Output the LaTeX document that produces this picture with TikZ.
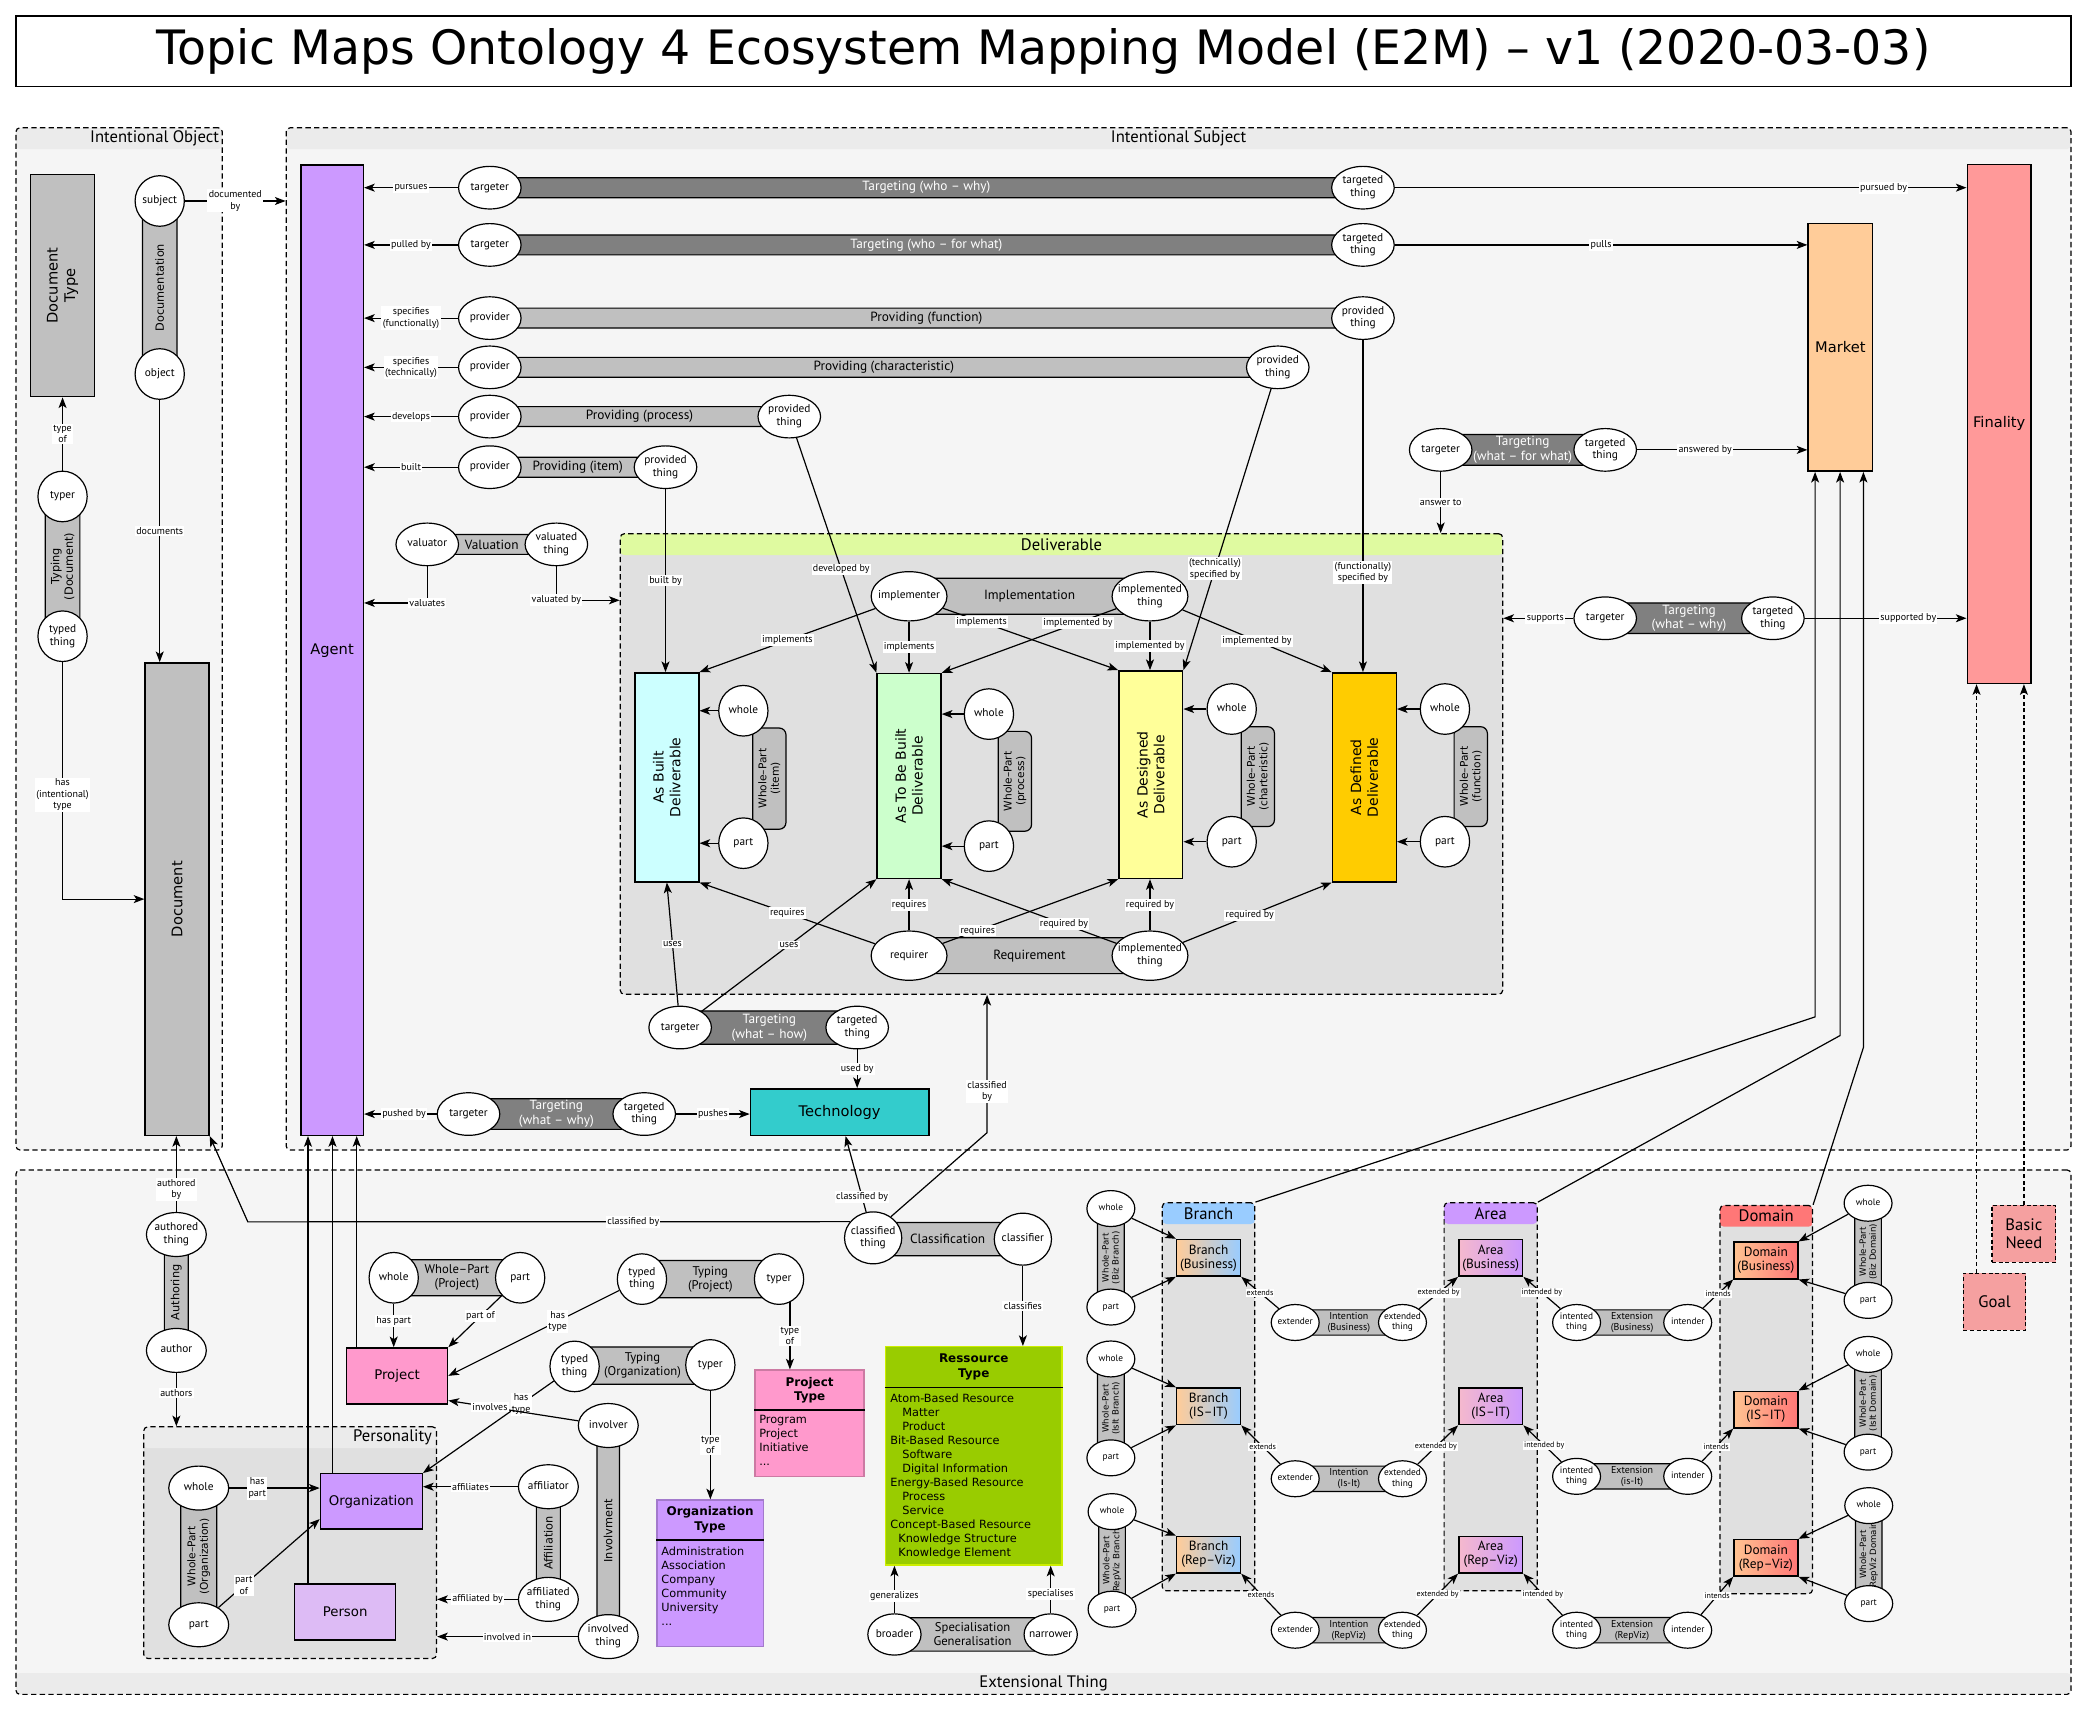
\documentclass[tikz,border=0pt]{standalone}
\usepackage{fontspec}
\setmainfont{PT Sans}
\newfontfamily\boxfont{DejaVu Sans}
\usetikzlibrary{shapes.geometric,arrows.meta,positioning}

\definecolor{bodygray}{RGB}{245,245,245}
\definecolor{hdrgray}{RGB}{235,235,235}
\definecolor{innergray}{RGB}{224,224,224}
\definecolor{bargray}{RGB}{192,192,192}
\definecolor{bardark}{RGB}{128,128,128}
\definecolor{agentc}{RGB}{204,153,255}
\definecolor{marketc}{RGB}{255,204,153}
\definecolor{finalc}{RGB}{255,153,153}
\definecolor{techc}{RGB}{51,204,204}
\definecolor{delivg}{RGB}{223,250,160}
\definecolor{builtc}{RGB}{204,255,255}
\definecolor{tbbc}{RGB}{204,255,204}
\definecolor{desc}{RGB}{255,255,153}
\definecolor{defc}{RGB}{255,204,0}
\definecolor{projc}{RGB}{255,153,204}
\definecolor{personc}{RGB}{221,187,245}
\definecolor{restc}{RGB}{153,204,0}
\definecolor{branchc}{RGB}{153,204,255}
\definecolor{domainc}{RGB}{255,119,119}
\definecolor{goalc}{RGB}{245,160,160}
\definecolor{areal}{RGB}{245,185,205}
\definecolor{domainl}{RGB}{255,195,145}

\newcommand{\rtxt}[1]{\makebox[0pt]{\begin{tabular}{@{}c@{}}#1\end{tabular}}}

\begin{document}
\begin{tikzpicture}[x=1pt, y=-1pt, line width=0.9pt, >={Stealth[length=8pt,width=6pt,inset=2pt]}]
    \tikzstyle{cont} = [rectangle, draw, dash pattern=on 4pt off 2.5pt, rounded corners=3pt, fill=bodygray, inner sep=0pt]
    \tikzset{hdr/.style 2 args={path picture={\fill[#1] (path picture bounding box.north west) rectangle ([yshift=-#2]path picture bounding box.north east);}},
             ftr/.style 2 args={path picture={\fill[#1] (path picture bounding box.south west) rectangle ([yshift=#2]path picture bounding box.south east);}}}
    \tikzstyle{titlebox} = [rectangle, draw, line width=1.2pt, fill=white, font={\boxfont\fontsize{35.6}{40}\selectfont}]
    \tikzstyle{ctitle} = [inner sep=1pt, font=\fontsize{12.5}{14}\selectfont]
    \tikzstyle{ebox} = [rectangle, draw, line width=1.1pt, inner sep=0pt, align=center, font={\boxfont\fontsize{11}{13}\selectfont}]
    \tikzstyle{vtext} = [rotate=90, align=center, font={\boxfont\fontsize{10.5}{12.5}\selectfont}]
    \tikzstyle{bigvtext} = [rotate=90, align=center, font={\boxfont\fontsize{11}{13}\selectfont}]
    \tikzstyle{role} = [ellipse, draw, fill=white, inner sep=0pt, minimum width=47pt, minimum height=32pt, font=\fontsize{8.5}{9.5}\selectfont]
    \tikzstyle{brole} = [role, minimum width=57pt, minimum height=37pt]
    \tikzstyle{srole} = [role, minimum width=37pt, minimum height=38pt]
    \tikzstyle{mrole} = [role, minimum width=45pt, minimum height=33pt]
    \tikzstyle{crole} = [role, minimum width=43pt, minimum height=39pt]
    \tikzstyle{grole} = [role, minimum width=40pt, minimum height=31pt]
    \tikzstyle{xrole} = [role, minimum width=36pt, minimum height=27pt, font=\fontsize{7}{8}\selectfont]
    \tikzstyle{dbar} = [rectangle, draw, fill=bardark, rounded corners=5pt, inner sep=0pt, text=white, align=center, font=\fontsize{10}{11}\selectfont]
    \tikzstyle{lbar} = [rectangle, draw, fill=bargray, rounded corners=5pt, inner sep=0pt, align=center, font=\fontsize{10}{11}\selectfont]
    \tikzstyle{sbar} = [lbar, font=\fontsize{7.5}{8.5}\selectfont]
    \tikzstyle{vbar} = [lbar, rotate=90, font={\boxfont\fontsize{8.5}{10}\selectfont}]
    \tikzstyle{wpbar} = [vbar, font={\boxfont\fontsize{8}{9.5}\selectfont}]
    \tikzstyle{swpbar} = [vbar, font={\boxfont\fontsize{6.5}{7.5}\selectfont}]
    \tikzstyle{bbox} = [rectangle, draw, line width=1.1pt, inner sep=0pt, minimum width=48pt, minimum height=27.5pt, align=center, font=\fontsize{10}{10.5}\selectfont]
    \tikzstyle{gbox} = [rectangle, draw, dash pattern=on 3pt off 2pt, fill=goalc, inner sep=0pt, align=center, font=\fontsize{12.5}{14}\selectfont]
    \tikzstyle{thdr} = [inner sep=0pt, align=center, font={\boxfont\bfseries\fontsize{9}{11}\selectfont}]
    \tikzstyle{tlist} = [inner sep=0pt, anchor=north west, align=left, font={\boxfont\fontsize{8.5}{10.5}\selectfont}]
    \tikzstyle{elabel} = [fill=white, inner sep=1pt, align=center, font=\fontsize{7.5}{8.5}\selectfont]
    \tikzstyle{slabel} = [fill=white, inner sep=0.8pt, align=center, font=\fontsize{6}{7}\selectfont]

    \useasboundingbox (0,0) rectangle (1568,1285);

    % title
    \node[titlebox, minimum width=1544pt, minimum height=53pt] (title) at (784,38.5) {Topic Maps Ontology 4 Ecosystem Mapping Model (E2M) – v1 (2020-03-03)};

    % containers
    \node[cont, hdr={hdrgray}{16pt}, minimum width=155pt, minimum height=768pt] (iobj) at (89.5,480) {};
    \node[cont, hdr={hdrgray}{16pt}, minimum width=1341pt, minimum height=768pt] (isubj) at (885.5,480) {};
    \node[cont, ftr={hdrgray}{16pt}, minimum width=1544pt, minimum height=394pt] (ext) at (784,1076) {};
    \node[ctitle, anchor=east] (iobj-t) at (166,104) {Intentional Object};
    \node[ctitle] (isubj-t) at (885.5,104) {Intentional Subject};
    \node[ctitle] (ext-t) at (784,1265) {Extensional Thing};
    \node[cont, fill=innergray, hdr={delivg}{16pt}, minimum width=663pt, minimum height=346pt] (deliv) at (797.5,574) {};
    \node[ctitle] (deliv-t) at (797.5,409) {Deliverable};
    \node[cont, fill=innergray, hdr={hdrgray}{16pt}, minimum width=220pt, minimum height=174pt] (pers) at (218,1159) {};
    \node[ctitle, anchor=east] (pers-t) at (326,1079.5) {Personality};
    \node[cont, fill=innergray, hdr={branchc}{16pt}, minimum width=69.5pt, minimum height=291.6pt] (branch) at (908,1049.4) {};
    \node[cont, fill=innergray, hdr={agentc}{16pt}, minimum width=70pt, minimum height=291.6pt] (area) at (1120,1049.4) {};
    \node[cont, fill=innergray, hdr={domainc}{16pt}, minimum width=69.5pt, minimum height=291.7pt] (domain) at (1327,1051.5) {};
    \node[ctitle, font=\fontsize{12.5}{14}\selectfont] (branch-t) at (908,911.7) {Branch};
    \node[ctitle, font=\fontsize{12.5}{14}\selectfont] (area-t) at (1120,911.7) {Area};
    \node[ctitle, font=\fontsize{12.5}{14}\selectfont] (domain-t) at (1327,913.7) {Domain};

    % intentional object
    \node[ebox, fill=bargray, minimum width=48pt, minimum height=167pt, label={[bigvtext]center:{Document\\Type}}] (doctype) at (47,214.5) {};
    \node[ebox, fill=bargray, minimum width=48pt, minimum height=355pt, label={[bigvtext]center:Document}] (document) at (133,675.5) {};
    \node[vbar, minimum width=105pt, minimum height=26pt] (typingdoc) at (47,425.5) {Typing\\(Document)};
    \node[vbar, minimum width=130pt, minimum height=26pt] (documentation) at (120,216) {Documentation};
    \node[srole] (dtyper) at (47,373) {\rtxt{typer}};
    \node[srole] (dtyped) at (47,478) {\rtxt{typed\\thing}};
    \node[srole] (subject) at (120,151) {\rtxt{subject}};
    \node[srole] (object) at (120,281) {\rtxt{object}};

    % intentional subject
    \node[ebox, fill=agentc, minimum width=47pt, minimum height=729pt] (agent) at (249.5,488.5) {Agent};
    \node[ebox, fill=marketc, minimum width=48.5pt, minimum height=186pt] (market) at (1382.7,261) {Market};
    \node[ebox, fill=finalc, minimum width=48pt, minimum height=390pt] (finality) at (1502,318.5) {Finality};
    \node[ebox, fill=techc, minimum width=134pt, minimum height=35pt] (tech) at (630.8,835.5) {Technology};

    \node[dbar, minimum width=656pt, minimum height=15pt] (twhowhy) at (696,141) {Targeting (who – why)};
    \node[dbar, minimum width=656pt, minimum height=15pt] (twhofor) at (696,184) {Targeting (who – for what)};
    \node[lbar, minimum width=656pt, minimum height=15pt] (pfunc) at (696,239) {Providing (function)};
    \node[lbar, minimum width=592pt, minimum height=15pt] (pchar) at (664,276) {Providing (characteristic)};
    \node[lbar, minimum width=225pt, minimum height=15pt] (pproc) at (480.5,313) {Providing (process)};
    \node[lbar, minimum width=132pt, minimum height=15pt] (pitem) at (434,351) {Providing (item)};
    \node[lbar, minimum width=97pt, minimum height=15pt] (valuation) at (369.5,409) {Valuation};
    \node[dbar, minimum width=124pt, minimum height=23pt] (twhatfor) at (1144,338) {Targeting\\(what – for what)};
    \node[dbar, minimum width=126pt, minimum height=23pt] (twhatwhy) at (1269,464.5) {Targeting\\(what – why)};
    \node[dbar, minimum width=133pt, minimum height=25pt] (twhathow) at (578,772) {Targeting\\(what – how)};
    \node[dbar, minimum width=132pt, minimum height=23pt] (tpush) at (418,837) {Targeting\\(what – why)};

    \node[role] (tgt1) at (368,141) {\rtxt{targeter}};
    \node[role] (tgtd1) at (1024,141) {\rtxt{targeted\\thing}};
    \node[role] (tgt2) at (368,184) {\rtxt{targeter}};
    \node[role] (tgtd2) at (1024,184) {\rtxt{targeted\\thing}};
    \node[role] (prov3) at (368,239) {\rtxt{provider}};
    \node[role] (prvd3) at (1024,239) {\rtxt{provided\\thing}};
    \node[role] (prov4) at (368,276) {\rtxt{provider}};
    \node[role] (prvd4) at (960,276) {\rtxt{provided\\thing}};
    \node[role] (prov5) at (368,313) {\rtxt{provider}};
    \node[role] (prvd5) at (593,313) {\rtxt{provided\\thing}};
    \node[role] (prov6) at (368,351) {\rtxt{provider}};
    \node[role] (prvd6) at (500,351) {\rtxt{provided\\thing}};
    \node[role] (valuator) at (321,409) {\rtxt{valuator}};
    \node[role] (valuated) at (418,409) {\rtxt{valuated\\thing}};
    \node[role] (tgt9) at (1082.4,338) {\rtxt{targeter}};
    \node[role] (tgtd9) at (1206,338) {\rtxt{targeted\\thing}};
    \node[role] (tgt10) at (1206,464.5) {\rtxt{targeter}};
    \node[role] (tgtd10) at (1332,464.5) {\rtxt{targeted\\thing}};
    \node[role] (tgt7) at (511,772) {\rtxt{targeter}};
    \node[role] (tgtd7) at (644,772) {\rtxt{targeted\\thing}};
    \node[role] (tgt8) at (352,837) {\rtxt{targeter}};
    \node[role] (tgtd8) at (484,837) {\rtxt{targeted\\thing}};

    % deliverable
    \node[lbar, minimum width=181pt, minimum height=27pt] (implementation) at (773.5,448) {Implementation};
    \node[lbar, minimum width=181pt, minimum height=27pt] (requirement) at (773.5,718) {Requirement};
    \node[ebox, fill=builtc, minimum width=48pt, minimum height=157pt, label={[vtext]center:{As Built\\Deliverable}}] (asbuilt) at (501,584) {};
    \node[ebox, fill=tbbc, minimum width=48pt, minimum height=154pt, label={[vtext]center:{As To Be Built\\Deliverable}}] (astbb) at (683,583) {};
    \node[ebox, fill=desc, minimum width=48pt, minimum height=156pt, label={[vtext]center:{As Designed\\Deliverable}}] (asdes) at (864.6,582) {};
    \node[ebox, fill=defc, minimum width=48pt, minimum height=157pt, label={[vtext]center:{As Defined\\Deliverable}}] (asdef) at (1025,584) {};
    \node[wpbar, minimum width=76pt, minimum height=25pt] (wpitem) at (578,585) {Whole–Part\\(item)};
    \node[wpbar, minimum width=75pt, minimum height=25pt] (wpproc) at (762.5,587) {Whole–Part\\(process)};
    \node[wpbar, minimum width=75pt, minimum height=25pt] (wpchar) at (945,583.5) {Whole–Part\\(charteristic)};
    \node[wpbar, minimum width=75pt, minimum height=25pt] (wpfunc) at (1105,583.5) {Whole–Part\\(function)};
    \node[brole] (impl) at (683,448) {\rtxt{implementer}};
    \node[brole] (impld) at (864,448) {\rtxt{implemented\\thing}};
    \node[brole] (req) at (683,718) {\rtxt{requirer}};
    \node[brole] (reqd) at (864,718) {\rtxt{implemented\\thing}};
    \node[srole] (whole1) at (558.5,534) {\rtxt{whole}};
    \node[srole] (part1) at (558.5,633.5) {\rtxt{part}};
    \node[srole] (whole2) at (743,536.5) {\rtxt{whole}};
    \node[srole] (part2) at (743,635.7) {\rtxt{part}};
    \node[srole] (whole3) at (925.4,532.7) {\rtxt{whole}};
    \node[srole] (part3) at (925.4,632.4) {\rtxt{part}};
    \node[srole] (whole4) at (1085.6,532.7) {\rtxt{whole}};
    \node[srole] (part4) at (1085.6,632.4) {\rtxt{part}};

    % extensional thing
    \node[ebox, fill=projc, minimum width=76pt, minimum height=42pt, font={\boxfont\fontsize{10}{12}\selectfont}] (project) at (298.3,1033.7) {Project};
    \node[ebox, fill=agentc, minimum width=76.5pt, minimum height=41.5pt, font={\boxfont\fontsize{10}{12}\selectfont}] (org) at (279,1128) {Organization};
    \node[ebox, fill=personc, minimum width=76pt, minimum height=42pt, font={\boxfont\fontsize{10}{12}\selectfont}] (person) at (259.3,1211) {Person};

    \node[vbar, minimum width=87pt, minimum height=18pt] (authoring) at (132.5,971) {Authoring};
    \node[vbar, minimum width=103pt, minimum height=27pt, font={\boxfont\fontsize{8}{9.5}\selectfont}] (owp) at (149.3,1169.3) {Whole–Part\\(Organization)};
    \node[vbar, minimum width=85pt, minimum height=18pt] (affiliation) at (412,1159.3) {Affiliation};
    \node[vbar, minimum width=158pt, minimum height=17pt] (involvment) at (457,1150) {Involvment};
    \node[lbar, minimum width=95pt, minimum height=27pt, font=\fontsize{9.5}{10.5}\selectfont] (pwp) at (343.3,960) {Whole–Part\\(Project)};
    \node[lbar, minimum width=103pt, minimum height=28pt, font=\fontsize{9.5}{10.5}\selectfont] (ptyping) at (533.7,961) {Typing\\(Project)};
    \node[lbar, minimum width=102pt, minimum height=28pt, font=\fontsize{9.5}{10.5}\selectfont] (otyping) at (482.7,1026) {Typing\\(Organization)};
    \node[lbar, minimum width=112pt, minimum height=25pt] (classification) at (712,931) {Classification};
    \node[lbar, minimum width=117pt, minimum height=25pt, font=\fontsize{9.5}{10.5}\selectfont] (specialisation) at (730.7,1228) {Specialisation\\Generalisation};

    \node[mrole] (authored) at (132.5,927.5) {\rtxt{authored\\thing}};
    \node[mrole] (author) at (132.5,1014.6) {\rtxt{author}};
    \node[mrole] (owhole) at (149.3,1118) {\rtxt{whole}};
    \node[mrole] (opart) at (149.3,1220.7) {\rtxt{part}};
    \node[mrole] (affiliator) at (412,1117) {\rtxt{affiliator}};
    \node[mrole] (affiliated) at (412,1201.6) {\rtxt{affiliated\\thing}};
    \node[mrole] (involver) at (457,1071) {\rtxt{involver}};
    \node[mrole] (involved) at (457,1229.6) {\rtxt{involved\\thing}};
    \node[srole] (pwhole) at (295.8,960) {\rtxt{whole}};
    \node[srole] (ppart) at (390.8,960) {\rtxt{part}};
    \node[srole] (ptyped) at (482.3,961) {\rtxt{typed\\thing}};
    \node[srole] (ptyper) at (585.3,961) {\rtxt{typer}};
    \node[srole] (otyped) at (431.7,1026.6) {\rtxt{typed\\thing}};
    \node[srole] (otyper) at (533.7,1025.5) {\rtxt{typer}};
    \node[crole] (cthing) at (656,930) {\rtxt{classified\\thing}};
    \node[crole] (classifier) at (768.5,931) {\rtxt{classifier}};
    \node[grole] (broader) at (672,1228) {\rtxt{broader}};
    \node[grole] (narrower) at (789.4,1228) {\rtxt{narrower}};

    % type boxes
    \node[rectangle, draw=projc!80!black, line width=1.1pt, fill=projc, minimum width=82pt, minimum height=80pt] (ptype) at (608.3,1069.4) {};
    \node[thdr] (ptype-h) at (608.3,1044.4) {Project\\Type};
    \draw (ptype.west |- 0,1059.4) -- (ptype.east |- 0,1059.4);
    \node[tlist] (ptype-l) at (570,1063) {Program\\Project\\Initiative\\...};
    \node[rectangle, draw=agentc!80!black, line width=1.1pt, fill=agentc, minimum width=80pt, minimum height=110pt] (otype) at (533.5,1182) {};
    \node[thdr] (otype-h) at (533.5,1142) {Organization\\Type};
    \draw (otype.west |- 0,1157) -- (otype.east |- 0,1157);
    \node[tlist] (otype-l) at (496.5,1162) {Administration\\Association\\Company\\Community\\University\\...};
    \node[rectangle, draw={rgb,255:red,204;green,238;blue,0}, line width=1.1pt, fill=restc, minimum width=132.3pt, minimum height=164pt] (rtype) at (731.6,1093.8) {};
    \node[thdr] (rtype-h) at (731.6,1027) {Ressource\\Type};
    \draw (rtype.west |- 0,1042.3) -- (rtype.east |- 0,1042.3);
    \node[tlist] (rtype-l) at (668.5,1047) {Atom-Based Resource\\\hspace*{9pt}Matter\\\hspace*{9pt}Product\\Bit-Based Resource\\\hspace*{9pt}Software\\\hspace*{9pt}Digital Information\\Energy-Based Resource\\\hspace*{9pt}Process\\\hspace*{9pt}Service\\Concept-Based Resource\\\hspace*{6pt}Knowledge Structure\\\hspace*{6pt}Knowledge Element};

    % branch, area, domain
    \node[bbox, left color=marketc, right color=branchc] (bbiz) at (908,945) {Branch\\(Business)};
    \node[bbox, left color=marketc, right color=branchc] (bisit) at (908,1056.6) {Branch\\(IS–IT)};
    \node[bbox, left color=marketc, right color=branchc] (brv) at (908,1168) {Branch\\(Rep–Viz)};
    \node[bbox, left color=areal, right color=agentc] (abiz) at (1120,945) {Area\\(Business)};
    \node[bbox, left color=areal, right color=agentc] (aisit) at (1120,1056.6) {Area\\(IS–IT)};
    \node[bbox, left color=areal, right color=agentc] (arv) at (1120,1168) {Area\\(Rep–Viz)};
    \node[bbox, left color=domainl, right color=domainc] (dbiz) at (1326.7,947) {Domain\\(Business)};
    \node[bbox, left color=domainl, right color=domainc] (disit) at (1326.7,1059) {Domain\\(IS–IT)};
    \node[bbox, left color=domainl, right color=domainc] (drv) at (1326.7,1170.4) {Domain\\(Rep–Viz)};

    \node[swpbar, minimum width=74pt, minimum height=20pt] (bwp1) at (834.6,945) {Whole–Part\\(Biz Branch)};
    \node[swpbar, minimum width=74pt, minimum height=20pt] (bwp2) at (834.6,1058.2) {Whole–Part\\(IsIt Branch)};
    \node[swpbar, minimum width=73pt, minimum height=20pt] (bwp3) at (835.5,1172.4) {Whole–Part\\(RepViz Branch)};
    \node[swpbar, minimum width=73pt, minimum height=20pt] (dwp1) at (1403.5,940.5) {Whole–Part\\(Biz Domain)};
    \node[swpbar, minimum width=73pt, minimum height=20pt] (dwp2) at (1403.5,1054.3) {Whole–Part\\(IsIt Domain)};
    \node[swpbar, minimum width=73pt, minimum height=20pt] (dwp3) at (1404,1168) {Whole–Part\\(RepViz Domain)};
    \node[sbar, minimum width=80pt, minimum height=19pt] (ibar1) at (1013.4,993.6) {Intention\\(Business)};
    \node[sbar, minimum width=80pt, minimum height=19pt] (ibar2) at (1013.4,1111) {Intention\\(Is-It)};
    \node[sbar, minimum width=80pt, minimum height=19pt] (ibar3) at (1013.4,1224.8) {Intention\\(RepViz)};
    \node[sbar, minimum width=83.5pt, minimum height=19pt] (xbar1) at (1226.2,993.6) {Extension\\(Business)};
    \node[sbar, minimum width=83.5pt, minimum height=19pt] (xbar2) at (1226.2,1109.2) {Extension\\(is-It)};
    \node[sbar, minimum width=83.5pt, minimum height=19pt] (xbar3) at (1226.2,1224.8) {Extension\\(RepViz)};

    \node[xrole] (bwhole1) at (834.6,908) {\rtxt{whole}};
    \node[xrole] (bpart1) at (834.6,982) {\rtxt{part}};
    \node[xrole] (bwhole2) at (834.6,1021) {\rtxt{whole}};
    \node[xrole] (bpart2) at (834.6,1095.3) {\rtxt{part}};
    \node[xrole] (bwhole3) at (835.5,1135.7) {\rtxt{whole}};
    \node[xrole] (bpart3) at (835.5,1209) {\rtxt{part}};
    \node[xrole] (dwhole1) at (1403.5,904) {\rtxt{whole}};
    \node[xrole] (dpart1) at (1403.5,977) {\rtxt{part}};
    \node[xrole] (dwhole2) at (1403.5,1017.6) {\rtxt{whole}};
    \node[xrole] (dpart2) at (1403.5,1091) {\rtxt{part}};
    \node[xrole] (dwhole3) at (1404,1131.2) {\rtxt{whole}};
    \node[xrole] (dpart3) at (1404,1204.8) {\rtxt{part}};
    \node[xrole] (ext1) at (973.1,993.6) {\rtxt{extender}};
    \node[xrole] (extd1) at (1053.7,993.6) {\rtxt{extended\\thing}};
    \node[xrole] (ext2) at (973.1,1111) {\rtxt{extender}};
    \node[xrole] (extd2) at (1053.7,1111) {\rtxt{extended\\thing}};
    \node[xrole] (ext3) at (973.1,1224.8) {\rtxt{extender}};
    \node[xrole] (extd3) at (1053.7,1224.8) {\rtxt{extended\\thing}};
    \node[xrole] (intd1) at (1184.5,993.6) {\rtxt{intented\\thing}};
    \node[xrole] (intr1) at (1268,993.6) {\rtxt{intender}};
    \node[xrole] (intd2) at (1184.5,1109.2) {\rtxt{intented\\thing}};
    \node[xrole] (intr2) at (1268,1109.2) {\rtxt{intender}};
    \node[xrole] (intd3) at (1184.5,1224.8) {\rtxt{intented\\thing}};
    \node[xrole] (intr3) at (1268,1224.8) {\rtxt{intender}};

    \node[gbox, minimum width=47pt, minimum height=43pt] (goal) at (1498.5,978) {Goal};
    \node[gbox, minimum width=48pt, minimum height=43pt] (basic) at (1520.6,927) {Basic\\Need};

    % connectors: intentional object
    \draw[->] (dtyper) -- node[elabel]{type\\of} (doctype);
    \draw[->] (dtyped) |- node[elabel, pos=0.28]{has\\(intentional)\\type} (document);
    \draw[->] (subject) -- node[elabel]{documented\\by} (subject -| isubj.west);
    \draw[->] (object) -- node[elabel]{documents} (object |- document.north);

    % connectors: agent rows
    \draw[->] (tgt1) -- node[elabel]{pursues} (tgt1 -| agent.east);
    \draw[->] (tgtd1) -- node[elabel, pos=0.855]{pursued by} (tgtd1 -| finality.west);
    \draw[->] (tgt2) -- node[elabel]{pulled by} (tgt2 -| agent.east);
    \draw[->] (tgtd2) -- node[elabel]{pulls} (tgtd2 -| market.west);
    \draw[->] (prov3) -- node[elabel]{specifies\\(functionally)} (prov3 -| agent.east);
    \draw[->] (prvd3) -- node[elabel, pos=0.7]{(functionally)\\specified by} (prvd3 |- asdef.north);
    \draw[->] (prov4) -- node[elabel]{specifies\\(technically)} (prov4 -| agent.east);
    \draw[->] (prvd4) -- node[elabel, pos=0.64]{(technically)\\specified by} (asdes.north east);
    \draw[->] (prov5) -- node[elabel]{develops} (prov5 -| agent.east);
    \draw[->] (prvd5) -- node[elabel, pos=0.56]{developed by} (astbb.north west);
    \draw[->] (prov6) -- node[elabel]{built} (prov6 -| agent.east);
    \draw[->] (prvd6) -- node[elabel]{built by} (prvd6 |- asbuilt.north);
    \draw[->] (valuator) |- node[elabel]{valuates} (agent.east |- 0,453);
    \draw[->] (valuated) |- node[elabel]{valuated by} (deliv.west |- 0,451);

    % connectors: deliverable
    \draw[->] (impl) -- node[elabel]{implements} (asbuilt.north east);
    \draw[->] (impl) -- node[elabel]{implements} (impl |- astbb.north);
    \draw[->] (impl) -- node[elabel, pos=0.22]{implements} (asdes.north west);
    \draw[->] (impld) -- node[elabel, pos=0.22]{implemented by} (astbb.north east);
    \draw[->] (impld) -- node[elabel]{implemented by} (impld |- asdes.north);
    \draw[->] (impld) -- node[elabel]{implemented by} (asdef.north west);
    \draw[->] (req) -- node[elabel]{requires} (asbuilt.south east);
    \draw[->] (req) -- node[elabel]{requires} (req |- astbb.south);
    \draw[->] (req) -- node[elabel, pos=0.2]{requires} (asdes.south west);
    \draw[->] (reqd) -- node[elabel, pos=0.3]{required by} (astbb.south east);
    \draw[->] (reqd) -- node[elabel]{required by} (reqd |- asdes.south);
    \draw[->] (reqd) -- node[elabel, pos=0.45]{required by} (asdef.south west);
    \draw[->] (whole1) -- (whole1 -| asbuilt.east);
    \draw[->] (part1) -- (part1 -| asbuilt.east);
    \draw[->] (whole2) -- (whole2 -| astbb.east);
    \draw[->] (part2) -- (part2 -| astbb.east);
    \draw[->] (whole3) -- (whole3 -| asdes.east);
    \draw[->] (part3) -- (part3 -| asdes.east);
    \draw[->] (whole4) -- (whole4 -| asdef.east);
    \draw[->] (part4) -- (part4 -| asdef.east);

    % connectors: technology, market, finality
    \draw[->] (tgt7) -- node[elabel]{uses} (asbuilt.south);
    \draw[->] (tgt7) -- node[elabel]{uses} (astbb.south west);
    \draw[->] (tgtd7) -- node[elabel]{used by} (tgtd7 |- tech.north);
    \draw[->] (tgt8) -- node[elabel, pos=0.45]{pushed by} (tgt8 -| agent.east);
    \draw[->] (tgtd8) -- node[elabel]{pushes} (tgtd8 -| tech.west);
    \draw[->] (tgtd9) -- node[elabel, pos=0.4]{answered by} (tgtd9 -| market.west);
    \draw[->] (tgt9) -- node[elabel]{answer to} (tgt9 |- deliv.north);
    \draw[->] (tgt10) -- node[elabel, pos=0.4]{supports} (tgt10 -| deliv.east);
    \draw[->] (tgtd10) -- node[elabel, pos=0.64]{supported by} (tgtd10 -| finality.west);
    \draw[->] (branch.north east) -- (1363.7,764) -- (1363.7,0 |- market.south);
    \draw[->] (area.north east) -- (1382.5,778) -- (1382.5,0 |- market.south);
    \draw[->] (domain.north east) -- (1400,787) -- (1400,0 |- market.south);
    \draw[->, dash pattern=on 3pt off 2pt] (1485,0 |- goal.north) -- (1485,0 |- finality.south);
    \draw[->, dash pattern=on 3pt off 2pt] (basic) -- (basic |- finality.south);

    % connectors: extensional thing
    \draw[->] (authored) -- node[elabel, pos=0.3]{authored\\by} (authored |- document.south);
    \draw[->] (author) -- node[elabel, pos=0.38]{authors} (author |- pers.north);
    \draw[->] (cthing.145) -- node[elabel, pos=0.36]{classified by} (186.2,918) -- (document.south east);
    \draw[->] (cthing) -- node[elabel, pos=0.2]{classified by} (635.3,0 |- tech.south);
    \draw[->] (cthing.50) -- (741.6,851) -- node[elabel, pos=0.3]{classified\\by} (741.6,0 |- deliv.south);
    \draw[->] (classifier) -- node[elabel]{classifies} (classifier |- rtype.north);
    \draw[->] (pwhole) -- node[elabel, pos=0.4]{has part} (pwhole |- project.north);
    \draw[->] (ppart) -- node[elabel, pos=0.4]{part of} (project.north east);
    \draw[->] (ptyped) -- node[elabel, pos=0.36]{has\\type} (project.east);
    \draw[->] (ptyper.-65) -- node[elabel]{type\\of} (ptyper.-65 |- ptype.north);
    \draw[->] (otyped) -- node[elabel, pos=0.25]{has\\type} (org.north east);
    \draw[->] (otyper) -- node[elabel]{type\\of} (otyper |- otype.north);
    \draw[->] (owhole) -- node[elabel, pos=0.31]{has\\part} (owhole -| org.west);
    \draw[->] (opart) -- node[elabel, pos=0.25]{part\\of} ([yshift=8pt]org.south west);
    \draw[->] (affiliator) -- node[elabel]{affiliates} (affiliator -| org.east);
    \draw[->] (affiliated) -- node[elabel]{affiliated by} (affiliated -| pers.east);
    \draw[->] (involver) -- node[elabel, pos=0.68]{involves} ([yshift=3pt]project.south east);
    \draw[->] (involved) -- node[elabel]{involved in} (involved -| pers.east);
    \draw[->] (231.4,0 |- person.north) -- (231.4,0 |- agent.south);
    \draw[->] (249.8,0 |- org.north) -- (249.8,0 |- agent.south);
    \draw[->] (268,0 |- project.north) -- (268,0 |- agent.south);
    \draw[->] (broader) -- node[elabel, pos=0.37]{generalizes} (broader |- rtype.south);
    \draw[->] (narrower) -- node[elabel, pos=0.4]{specialises} (narrower |- rtype.south);

    % connectors: branch, area, domain
    \draw[->] (bwhole1) -- (bbiz.north west);
    \draw[->] (bpart1) -- (bbiz.south west);
    \draw[->] (bwhole2) -- (bisit.north west);
    \draw[->] (bpart2) -- (bisit.south west);
    \draw[->] (bwhole3) -- (brv.north west);
    \draw[->] (bpart3) -- (brv.south west);
    \draw[->] (dwhole1) -- (dbiz.north east);
    \draw[->] (dpart1) -- (dbiz.south east);
    \draw[->] (dwhole2) -- (disit.north east);
    \draw[->] (dpart2) -- (disit.south east);
    \draw[->] (dwhole3) -- (drv.north east);
    \draw[->] (dpart3) -- (drv.south east);
    \draw[->] (ext1) -- node[slabel]{extends} (bbiz.south east);
    \draw[->] (extd1) -- node[slabel]{extended by} (abiz.south west);
    \draw[->] (ext2) -- node[slabel, pos=0.45]{extends} (bisit.south east);
    \draw[->] (extd2) -- node[slabel, pos=0.45]{extended by} (aisit.south west);
    \draw[->] (ext3) -- node[slabel]{extends} (brv.south east);
    \draw[->] (extd3) -- node[slabel]{extended by} (arv.south west);
    \draw[->] (intd1) -- node[slabel]{intended by} (abiz.south east);
    \draw[->] (intr1) -- node[slabel]{intends} (dbiz.south west);
    \draw[->] (intd2) -- node[slabel, pos=0.45]{intended by} (aisit.south east);
    \draw[->] (intr2) -- node[slabel, pos=0.45]{intends} (disit.south west);
    \draw[->] (intd3) -- node[slabel]{intended by} (arv.south east);
    \draw[->] (intr3) -- node[slabel]{intends} (drv.south west);
\end{tikzpicture}
\end{document}
